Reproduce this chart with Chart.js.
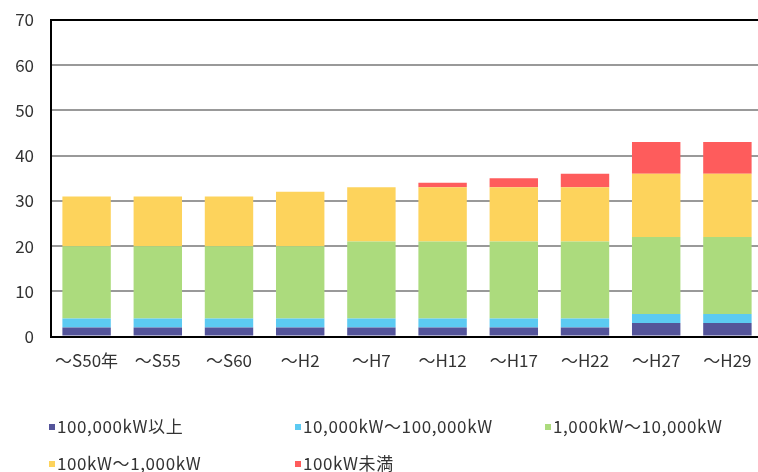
<!DOCTYPE html>
<html>
<head>
<meta charset="utf-8">
<script src="https://cdn.jsdelivr.net/npm/chart.js@4"></script>
<style>
  html, body { margin: 0; padding: 0; background: #fff; overflow: hidden; }
  #wrap { position: relative; width: 768px; height: 385px; }
  #legend { position: absolute; left: 0; top: 0; width: 758px; height: 472px; pointer-events: none;
            font-family: "Noto Sans CJK JP", sans-serif; font-size: 17px; color: #333; letter-spacing: 0.6px; }
  .item { position: absolute; white-space: nowrap; line-height: 20px; }
  .box { display: inline-block; width: 6px; height: 6px; margin-right: 2px; vertical-align: 3px; }
</style>
</head>
<body>
<div id="wrap"><canvas id="grafik" width="768" height="385"></canvas></div>
<div id="legend"></div>
<script>
// kategori & data (satuan: jumlah pembangkit)
const kategori = ['～S50年', '～S55', '～S60', '～H2', '～H7', '～H12', '～H17', '～H22', '～H27', '～H29'];
const seriLabel = ['100,000kW以上', '10,000kW～100,000kW', '1,000kW～10,000kW', '100kW～1,000kW', '100kW未満'];
const seriWarna = ['#54549a', '#5ccaf2', '#acdb7d', '#fdd35c', '#fe5c5c'];
const di100000 = [2, 2, 2, 2, 2, 2, 2, 2, 3, 3];
const di10000 = [2, 2, 2, 2, 2, 2, 2, 2, 2, 2];
const di1000 = [16, 16, 16, 16, 17, 17, 17, 17, 17, 17];
const di100 = [11, 11, 11, 12, 12, 12, 12, 12, 14, 14];
const bawah100 = [0, 0, 0, 0, 0, 1, 2, 3, 7, 7];
const yTicks = [0, 10, 20, 30, 40, 50, 60, 70];

const seriData = [di100000, di10000, di1000, di100, bawah100];

const ctx = document.getElementById('grafik').getContext('2d');
new Chart(ctx, {
    type: 'bar',
    data: {
        labels: kategori,
        datasets: seriData.map((d, i) => ({
            label: seriLabel[i],
            data: d,
            backgroundColor: seriWarna[i],
            borderWidth: 0,
            categoryPercentage: 1,
            barPercentage: 0.68
        }))
    },
    options: {
        responsive: false,
        animation: false,
        devicePixelRatio: 1,
        layout: { padding: { left: 12, top: 20, right: 5, bottom: 0 } },
        scales: {
            x: {
                stacked: true,
                grid: { drawOnChartArea: false, drawTicks: false },
                border: { display: true, color: '#000', width: 2 },
                afterFit: (a) => { a.paddingLeft = 0; a.paddingRight = 0; },
                ticks: { color: '#333', padding: 14, autoSkip: false, maxRotation: 0,
                         font: { family: '"Noto Sans CJK JP"', size: 17 } }
            },
            y: {
                stacked: true,
                min: 0,
                max: 70,
                z: 1,
                afterBuildTicks: (axis) => { axis.ticks = yTicks.map(v => ({ value: v })); },
                afterFit: (a) => { a.paddingTop = 0; a.paddingBottom = 0; a.width = 39; },
                grid: {
                    drawTicks: false,
                    lineWidth: 2,
                    color: (c) => c.tick && c.tick.value === 70 ? '#000' : 'rgba(0,0,0,0.4)'
                },
                border: { display: true, color: '#000', width: 2 },
                ticks: { color: '#333', padding: 17, font: { family: '"Noto Sans CJK JP"', size: 17 } }
            }
        },
        plugins: {
            legend: { display: false },
            tooltip: { enabled: false }
        }
    }
});

// legenda HTML
const posisi = [[57, 416], [303, 416], [553, 416], [57, 453], [303, 453]];
const legend = document.getElementById('legend');
seriLabel.forEach((lbl, i) => {
    const el = document.createElement('div');
    el.className = 'item';
    el.style.left = (posisi[i][0] - 8) + 'px';
    el.style.top = posisi[i][1] + 'px';
    el.innerHTML = `<span class="box" style="background:${seriWarna[i]}"></span>${lbl}`;
    legend.appendChild(el);
});
</script>
</body>
</html>
